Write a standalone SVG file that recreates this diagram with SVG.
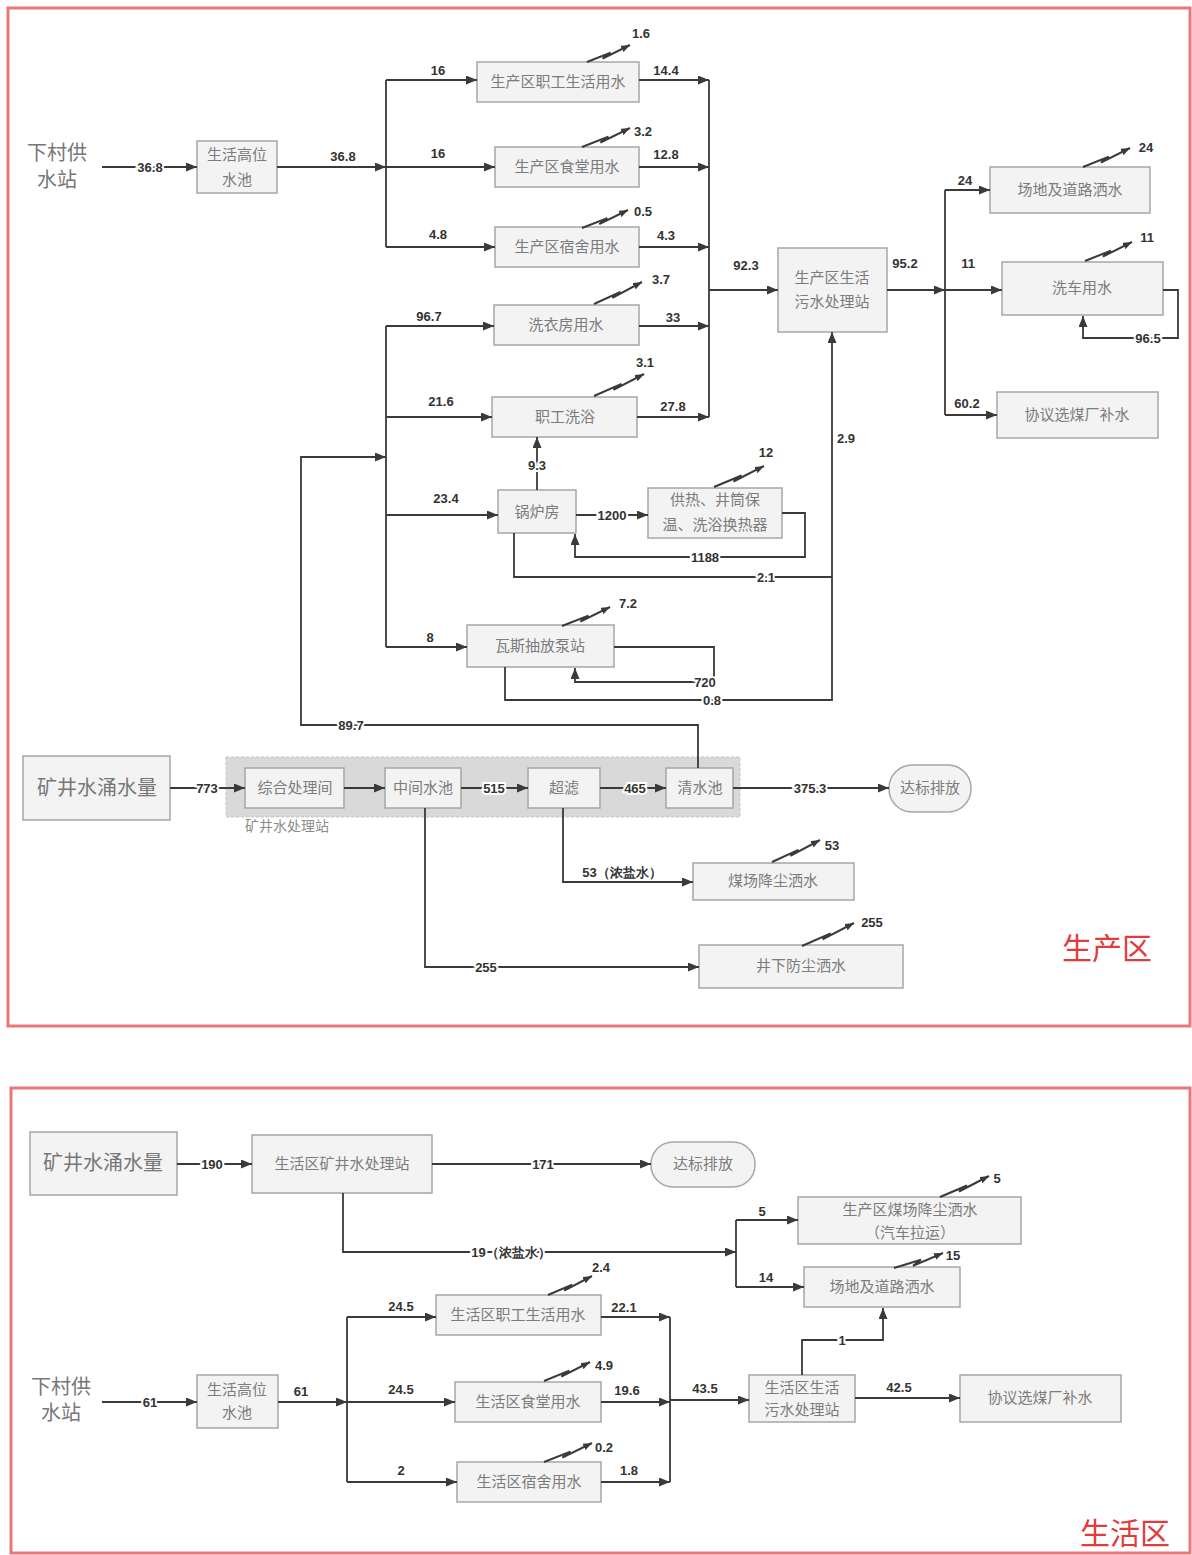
<svg xmlns="http://www.w3.org/2000/svg" width="1192" height="1555" viewBox="0 0 1192 1555">
<defs>
<marker id="arr" markerUnits="userSpaceOnUse" markerWidth="11" markerHeight="9" refX="11" refY="4.5" orient="auto"><path d="M0,0 L11,4.5 L0,9 z" fill="#3a3a3a"/></marker>
<marker id="arrs" markerUnits="userSpaceOnUse" markerWidth="9" markerHeight="7" refX="9" refY="3.5" orient="auto"><path d="M0,0 L9,3.5 L0,7 z" fill="#3a3a3a"/></marker>
</defs>
<style>
.frame{fill:#fff;stroke:#e87878;stroke-width:3}
.box{fill:#f3f3f3;stroke:#a6a6a6;stroke-width:1.5}
.t{font-family:"Liberation Serif","Noto Sans CJK SC",serif;font-size:15px;fill:#7c7c7c;text-anchor:middle;dominant-baseline:central}
.big{font-size:20px;fill:#777}
.n{font-family:"Liberation Sans",Arial,sans-serif;font-size:13px;font-weight:bold;fill:#333;text-anchor:middle;dominant-baseline:central}
.on{paint-order:stroke;stroke:#fff;stroke-width:4px}
.ln{fill:none;stroke:#3a3a3a;stroke-width:1.8}
.ev{fill:none;stroke:#3a3a3a;stroke-width:2}
.red{font-family:"Liberation Serif","Noto Sans CJK SC",serif;font-size:30px;fill:#e03c3c;text-anchor:middle;dominant-baseline:central}
</style>
<rect width="1192" height="1555" fill="#fff"/>
<rect class="frame" x="8" y="8" width="1182" height="1018"/>
<rect class="frame" x="11" y="1088" width="1179" height="465"/>

<!-- ===== Production zone nodes ===== -->
<g id="p_xcgs"><text class="t big" x="57" y="153">下村供</text><text class="t big" x="57" y="180">水站</text></g>
<g id="p_gwsc"><rect class="box" x="197" y="141" width="80" height="52"/><text class="t" x="237" y="155">生活高位</text><text class="t" x="237" y="180">水池</text></g>
<g id="p_zgsh"><rect class="box" x="477" y="62" width="162" height="40"/><text class="t" x="558" y="82">生产区职工生活用水</text></g>
<g id="p_st"><rect class="box" x="495" y="147" width="144" height="40"/><text class="t" x="567" y="167">生产区食堂用水</text></g>
<g id="p_ss"><rect class="box" x="495" y="227" width="144" height="40"/><text class="t" x="567" y="247">生产区宿舍用水</text></g>
<g id="p_xyf"><rect class="box" x="494" y="305" width="145" height="40"/><text class="t" x="566" y="325">洗衣房用水</text></g>
<g id="p_xy"><rect class="box" x="492" y="397" width="145" height="40"/><text class="t" x="565" y="417">职工洗浴</text></g>
<g id="p_glf"><rect class="box" x="498" y="490" width="78" height="43"/><text class="t" x="537" y="512">锅炉房</text></g>
<g id="p_gr"><rect class="box" x="648" y="488" width="134" height="50"/><text class="t" x="715" y="500">供热、井筒保</text><text class="t" x="715" y="525">温、洗浴换热器</text></g>
<g id="p_ws"><rect class="box" x="467" y="625" width="147" height="42"/><text class="t" x="540" y="646">瓦斯抽放泵站</text></g>
<g id="p_wsz"><rect class="box" x="778" y="248" width="109" height="84"/><text class="t" x="832" y="278">生产区生活</text><text class="t" x="832" y="302">污水处理站</text></g>
<g id="p_cd"><rect class="box" x="990" y="167" width="160" height="46"/><text class="t" x="1070" y="190">场地及道路洒水</text></g>
<g id="p_xc"><rect class="box" x="1002" y="262" width="161" height="53"/><text class="t" x="1082" y="288">洗车用水</text></g>
<g id="p_xm"><rect class="box" x="997" y="392" width="161" height="46"/><text class="t" x="1077" y="415">协议选煤厂补水</text></g>
<g id="p_kj"><rect class="box" x="23" y="756" width="147" height="64"/><text class="t big" x="97" y="788">矿井水涌水量</text></g>
<g id="p_kjz"><rect x="226" y="757" width="514" height="60" fill="#d9d9d9" stroke="#c4c4c4" stroke-width="1" stroke-dasharray="3,2"/><text class="t" x="287" y="826" style="font-size:14px;fill:#8a8a8a">矿井水处理站</text></g>
<g id="p_zh"><rect class="box" x="245" y="768" width="99" height="40"/><text class="t" x="295" y="788">综合处理间</text></g>
<g id="p_zj"><rect class="box" x="385" y="768" width="76" height="40"/><text class="t" x="423" y="788">中间水池</text></g>
<g id="p_cl"><rect class="box" x="528" y="768" width="72" height="40"/><text class="t" x="564" y="788">超滤</text></g>
<g id="p_qs"><rect class="box" x="666" y="768" width="67" height="40"/><text class="t" x="700" y="788">清水池</text></g>
<g id="p_db"><rect class="box" x="889" y="765" width="82" height="47" rx="23"/><text class="t" x="930" y="788">达标排放</text></g>
<g id="p_mc"><rect class="box" x="693" y="863" width="161" height="37"/><text class="t" x="773" y="881">煤场降尘洒水</text></g>
<g id="p_jx"><rect class="box" x="699" y="945" width="204" height="43"/><text class="t" x="801" y="966">井下防尘洒水</text></g>
<text class="red" x="1107" y="948">生产区</text>

<!-- ===== Life zone nodes ===== -->
<g id="l_kj"><rect class="box" x="30" y="1132" width="147" height="63"/><text class="t big" x="103" y="1163">矿井水涌水量</text></g>
<g id="l_kjz"><rect class="box" x="252" y="1135" width="180" height="58"/><text class="t" x="342" y="1164">生活区矿井水处理站</text></g>
<g id="l_db"><rect class="box" x="651" y="1142" width="104" height="45" rx="22"/><text class="t" x="703" y="1164">达标排放</text></g>
<g id="l_mc"><rect class="box" x="798" y="1197" width="223" height="47"/><text class="t" x="910" y="1210">生产区煤场降尘洒水</text><text class="t" x="910" y="1233">（汽车拉运）</text></g>
<g id="l_cd"><rect class="box" x="804" y="1267" width="156" height="40"/><text class="t" x="882" y="1287">场地及道路洒水</text></g>
<g id="l_xcgs"><text class="t big" x="61" y="1387">下村供</text><text class="t big" x="61" y="1413">水站</text></g>
<g id="l_gwsc"><rect class="box" x="197" y="1375" width="81" height="53"/><text class="t" x="237" y="1390">生活高位</text><text class="t" x="237" y="1413">水池</text></g>
<g id="l_zgsh"><rect class="box" x="436" y="1295" width="165" height="40"/><text class="t" x="518" y="1315">生活区职工生活用水</text></g>
<g id="l_st"><rect class="box" x="455" y="1382" width="146" height="40"/><text class="t" x="528" y="1402">生活区食堂用水</text></g>
<g id="l_ss"><rect class="box" x="457" y="1462" width="144" height="40"/><text class="t" x="529" y="1482">生活区宿舍用水</text></g>
<g id="l_wsz"><rect class="box" x="749" y="1375" width="106" height="47"/><text class="t" x="802" y="1388">生活区生活</text><text class="t" x="802" y="1410">污水处理站</text></g>
<g id="l_xm"><rect class="box" x="960" y="1375" width="161" height="47"/><text class="t" x="1040" y="1398">协议选煤厂补水</text></g>
<text class="red" x="1125" y="1533">生活区</text>

<!-- ===== Connectors ===== -->
<g id="connectors">
<!-- production -->
<path class="ln" d="M102,167 H197" marker-end="url(#arr)"/>
<path class="ln" d="M277,167 H386" marker-end="url(#arr)"/>
<path class="ln" d="M386,80 V247"/>
<path class="ln" d="M386,80 H477" marker-end="url(#arr)"/>
<path class="ln" d="M386,167 H495" marker-end="url(#arr)"/>
<path class="ln" d="M386,247 H495" marker-end="url(#arr)"/>
<path class="ln" d="M639,80 H709" marker-end="url(#arr)"/>
<path class="ln" d="M639,167 H709" marker-end="url(#arr)"/>
<path class="ln" d="M639,247 H709" marker-end="url(#arr)"/>
<path class="ln" d="M639,326 H709" marker-end="url(#arr)"/>
<path class="ln" d="M637,417 H709" marker-end="url(#arr)"/>
<path class="ln" d="M709,80 V417"/>
<path class="ln" d="M709,290 H778" marker-end="url(#arr)"/>
<path class="ln" d="M386,326 V647"/>
<path class="ln" d="M386,326 H494" marker-end="url(#arr)"/>
<path class="ln" d="M386,417 H492" marker-end="url(#arr)"/>
<path class="ln" d="M386,515 H498" marker-end="url(#arr)"/>
<path class="ln" d="M386,647 H467" marker-end="url(#arr)"/>
<path class="ln" d="M698,768 V725 H301 V457 H386" marker-end="url(#arr)"/>
<path class="ln" d="M537,490 V437" marker-end="url(#arr)"/>
<path class="ln" d="M576,515 H648" marker-end="url(#arr)"/>
<path class="ln" d="M782,513 H805 V557 H575 V534" marker-end="url(#arr)"/>
<path class="ln" d="M514,533 V577 H832"/>
<path class="ln" d="M505,667 V700 H832 V332" marker-end="url(#arr)"/>
<path class="ln" d="M614,647 H714 V682 H575 V668" marker-end="url(#arr)"/>
<path class="ln" d="M887,290 H945" marker-end="url(#arr)"/>
<path class="ln" d="M945,190 V415"/>
<path class="ln" d="M945,190 H990" marker-end="url(#arr)"/>
<path class="ln" d="M945,290 H1002" marker-end="url(#arr)"/>
<path class="ln" d="M945,415 H997" marker-end="url(#arr)"/>
<path class="ln" d="M1163,290 H1178 V338 H1083 V316" marker-end="url(#arr)"/>
<path class="ln" d="M170,788 H245" marker-end="url(#arr)"/>
<path class="ln" d="M344,788 H385" marker-end="url(#arr)"/>
<path class="ln" d="M461,788 H528" marker-end="url(#arr)"/>
<path class="ln" d="M600,788 H666" marker-end="url(#arr)"/>
<path class="ln" d="M733,788 H889" marker-end="url(#arr)"/>
<path class="ln" d="M425,808 V967 H699" marker-end="url(#arr)"/>
<path class="ln" d="M563,808 V882 H693" marker-end="url(#arr)"/>
<!-- evaporation -->
<path class="ev" d="M587,62 L610.6,52.6 L602.6,58.6 L630,45" marker-end="url(#arrs)"/>
<path class="ev" d="M582,147 L608.4,136.6 L600.4,142.6 L630,128" marker-end="url(#arrs)"/>
<path class="ev" d="M582,228 L607.3,218.1 L599.3,224.1 L628,210" marker-end="url(#arrs)"/>
<path class="ev" d="M594,304 L620.4,291.9 L612.4,297.9 L642,282" marker-end="url(#arrs)"/>
<path class="ev" d="M594,396 L621.5,383.9 L613.5,389.9 L644,374" marker-end="url(#arrs)"/>
<path class="ev" d="M714,487 L741.5,475.5 L733.5,481.5 L764,466" marker-end="url(#arrs)"/>
<path class="ev" d="M562,626 L588.4,615.6 L580.4,621.6 L610,607" marker-end="url(#arrs)"/>
<path class="ev" d="M1083,167 L1108.9,156.6 L1100.9,162.6 L1130,148" marker-end="url(#arrs)"/>
<path class="ev" d="M1085,261 L1110.9,250.6 L1102.9,256.6 L1132,242" marker-end="url(#arrs)"/>
<path class="ev" d="M772,862 L798.4,849.9 L790.4,855.9 L820,840" marker-end="url(#arrs)"/>
<path class="ev" d="M802,946 L830.6,933.4 L822.6,939.4 L854,923" marker-end="url(#arrs)"/>
<!-- life -->
<path class="ln" d="M177,1164 H252" marker-end="url(#arr)"/>
<path class="ln" d="M432,1164 H651" marker-end="url(#arr)"/>
<path class="ln" d="M343,1193 V1252 H736" marker-end="url(#arr)"/>
<path class="ln" d="M736,1220 V1287"/>
<path class="ln" d="M736,1220 H798" marker-end="url(#arr)"/>
<path class="ln" d="M736,1287 H804" marker-end="url(#arr)"/>
<path class="ln" d="M102,1402 H197" marker-end="url(#arr)"/>
<path class="ln" d="M278,1402 H347" marker-end="url(#arr)"/>
<path class="ln" d="M347,1317 V1482"/>
<path class="ln" d="M347,1317 H436" marker-end="url(#arr)"/>
<path class="ln" d="M347,1402 H455" marker-end="url(#arr)"/>
<path class="ln" d="M347,1482 H457" marker-end="url(#arr)"/>
<path class="ln" d="M601,1317 H670" marker-end="url(#arr)"/>
<path class="ln" d="M601,1402 H670" marker-end="url(#arr)"/>
<path class="ln" d="M601,1482 H670" marker-end="url(#arr)"/>
<path class="ln" d="M670,1317 V1482"/>
<path class="ln" d="M670,1400 H749" marker-end="url(#arr)"/>
<path class="ln" d="M802,1375 V1340 H883 V1308" marker-end="url(#arr)"/>
<path class="ln" d="M855,1398 H960" marker-end="url(#arr)"/>
<path class="ev" d="M940,1197 L967,1185.5 L959,1191.5 L989,1176" marker-end="url(#arrs)"/>
<path class="ev" d="M894,1268 L921,1259.8 L913,1265.8 L943,1253" marker-end="url(#arrs)"/>
<path class="ev" d="M548,1295 L572.2,1284.6 L564.2,1290.6 L592,1276" marker-end="url(#arrs)"/>
<path class="ev" d="M544,1381 L569.3,1370.6 L561.3,1376.6 L590,1362" marker-end="url(#arrs)"/>
<path class="ev" d="M544,1462 L570.4,1451.6 L562.4,1457.6 L592,1443" marker-end="url(#arrs)"/>

<!-- labels production -->
<text class="n on" x="150" y="167">36.8</text>
<text class="n" x="343" y="156">36.8</text>
<text class="n" x="438" y="70">16</text>
<text class="n" x="438" y="153">16</text>
<text class="n" x="438" y="234">4.8</text>
<text class="n" x="666" y="70">14.4</text>
<text class="n" x="666" y="154">12.8</text>
<text class="n" x="666" y="235">4.3</text>
<text class="n" x="673" y="317">33</text>
<text class="n" x="673" y="406">27.8</text>
<text class="n" x="746" y="265">92.3</text>
<text class="n" x="641" y="33">1.6</text>
<text class="n" x="643" y="131">3.2</text>
<text class="n" x="643" y="211">0.5</text>
<text class="n" x="661" y="279">3.7</text>
<text class="n" x="645" y="362">3.1</text>
<text class="n" x="766" y="452">12</text>
<text class="n" x="628" y="603">7.2</text>
<text class="n" x="429" y="316">96.7</text>
<text class="n" x="441" y="401">21.6</text>
<text class="n" x="446" y="498">23.4</text>
<text class="n" x="430" y="637">8</text>
<text class="n on" x="537" y="465">9.3</text>
<text class="n on" x="612" y="515">1200</text>
<text class="n on" x="705" y="557">1188</text>
<text class="n on" x="766" y="577">2.1</text>
<text class="n on" x="705" y="682">720</text>
<text class="n on" x="712" y="700">0.8</text>
<text class="n" x="846" y="438">2.9</text>
<text class="n on" x="351" y="725">89.7</text>
<text class="n" x="905" y="263">95.2</text>
<text class="n" x="965" y="180">24</text>
<text class="n" x="968" y="263">11</text>
<text class="n" x="967" y="403">60.2</text>
<text class="n" x="1146" y="147">24</text>
<text class="n" x="1147" y="237">11</text>
<text class="n on" x="1148" y="338">96.5</text>
<text class="n on" x="207" y="788">773</text>
<text class="n on" x="494" y="788">515</text>
<text class="n on" x="635" y="788">465</text>
<text class="n on" x="810" y="788">375.3</text>
<text class="n on" x="486" y="967">255</text>
<text class="n" x="622" y="872">53（浓盐水）</text>
<text class="n" x="832" y="845">53</text>
<text class="n" x="872" y="922">255</text>
<!-- labels life -->
<text class="n on" x="212" y="1164">190</text>
<text class="n on" x="543" y="1164">171</text>
<text class="n on" x="511" y="1252">19（浓盐水）</text>
<text class="n" x="762" y="1211">5</text>
<text class="n" x="766" y="1277">14</text>
<text class="n" x="997" y="1178">5</text>
<text class="n" x="953" y="1255">15</text>
<text class="n on" x="150" y="1402">61</text>
<text class="n" x="301" y="1391">61</text>
<text class="n" x="401" y="1306">24.5</text>
<text class="n" x="401" y="1389">24.5</text>
<text class="n" x="401" y="1470">2</text>
<text class="n" x="624" y="1307">22.1</text>
<text class="n" x="627" y="1390">19.6</text>
<text class="n" x="629" y="1470">1.8</text>
<text class="n" x="601" y="1267">2.4</text>
<text class="n" x="604" y="1365">4.9</text>
<text class="n" x="604" y="1447">0.2</text>
<text class="n" x="705" y="1388">43.5</text>
<text class="n on" x="842" y="1340">1</text>
<text class="n" x="899" y="1387">42.5</text>
</g>
</svg>
